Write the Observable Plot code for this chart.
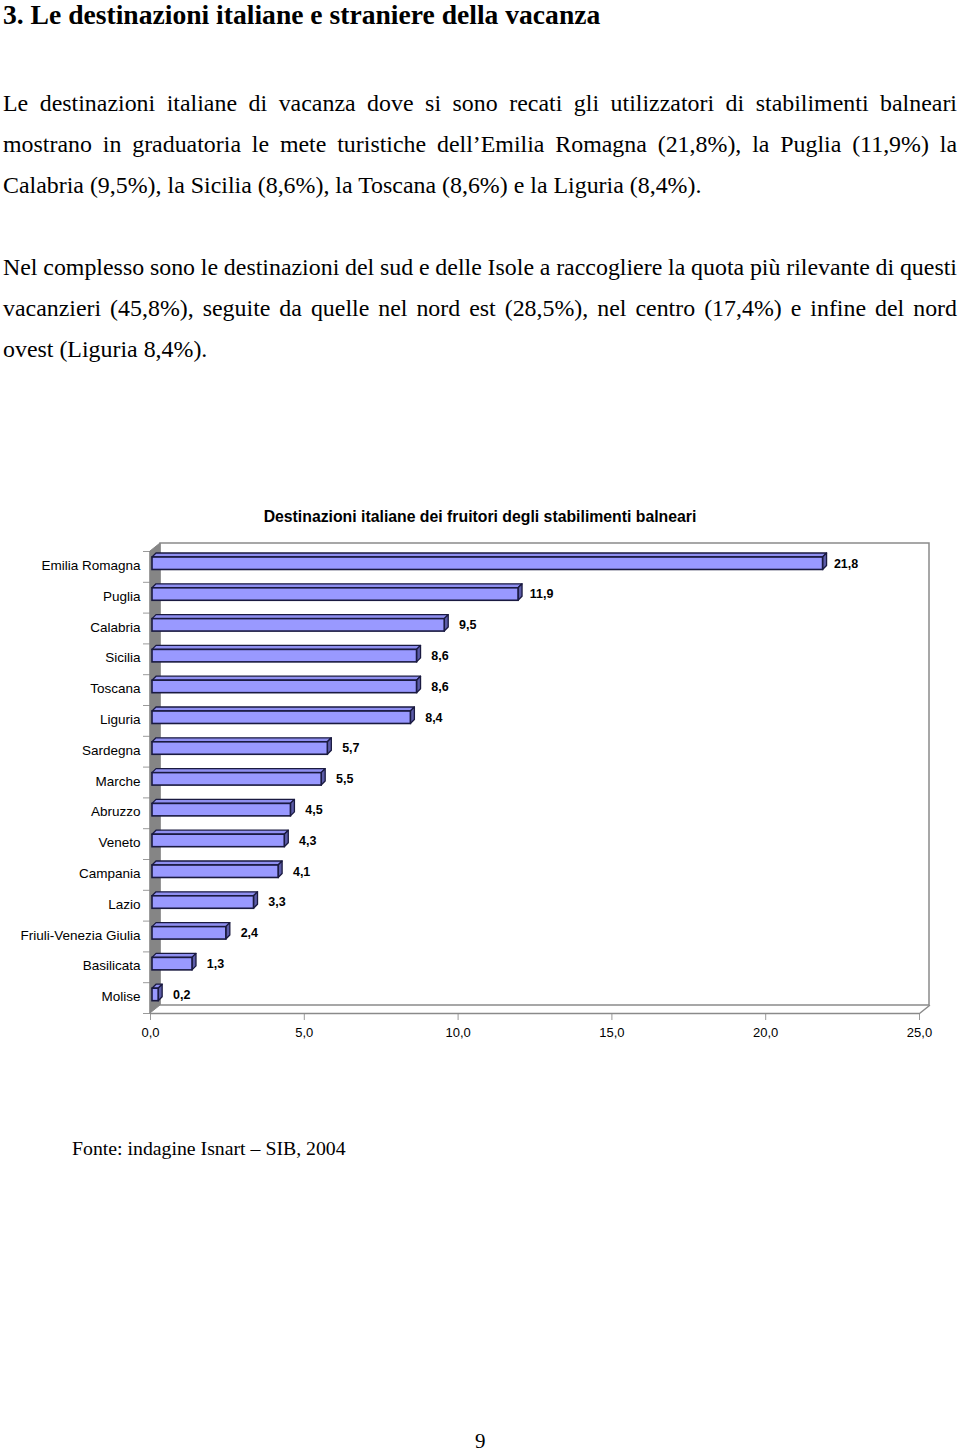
<!DOCTYPE html>
<html>
<head>
<meta charset="utf-8">
<script src="https://cdn.jsdelivr.net/npm/d3@7"></script>
<script src="https://cdn.jsdelivr.net/npm/@observablehq/plot@0.6"></script>
<style>
  html, body { margin: 0; padding: 0; background: #fff; }
  body { width: 960px; height: 1451px; position: relative; overflow: hidden; color: #000; }
  .serif { font-family: "Liberation Serif", "Times New Roman", serif; }
  .abs { position: absolute; white-space: nowrap; }
  .h1 { left: 3px; top: -1px; font-size: 27.6px; font-weight: bold; }
  .line { position: absolute; left: 3px; width: 954px; font-size: 23.9px; text-align: justify; text-align-last: justify; white-space: nowrap; }
  .line.last { text-align-last: left; }
  .line.tight { word-spacing: -1.5px; }
  .ctitle { position: absolute; left: 0; width: 960px; top: 508px; text-align: center; font-family: "Liberation Sans", Arial, sans-serif; font-weight: bold; font-size: 15.8px; }
  #chart { position: absolute; left: 0; top: 530px; }
  #chart svg g[aria-label="x-axis tick"] path, #chart svg g[aria-label="y-axis tick"] path { stroke: #9a9a9a; }
  .fonte { left: 72px; top: 1137px; font-size: 19.8px; }
  .pnum { left: 475px; top: 1429px; font-size: 21px; }
</style>
</head>
<body>
<div class="abs serif h1">3. Le destinazioni italiane e straniere della vacanza</div>
<div class="line serif" style="top:90px">Le destinazioni italiane di vacanza dove si sono recati gli utilizzatori di stabilimenti balneari</div>
<div class="line serif" style="top:131px">mostrano in graduatoria le mete turistiche dell’Emilia Romagna (21,8%), la Puglia (11,9%) la</div>
<div class="line serif last" style="top:172px">Calabria (9,5%), la Sicilia (8,6%), la Toscana (8,6%) e la Liguria (8,4%).</div>
<div class="line serif tight" style="top:254px">Nel complesso sono le destinazioni del sud e delle Isole a raccogliere la quota più rilevante di questi</div>
<div class="line serif" style="top:295px">vacanzieri (45,8%), seguite da quelle nel nord est (28,5%), nel centro (17,4%) e infine del nord</div>
<div class="line serif last" style="top:336px">ovest (Liguria 8,4%).</div>

<div class="ctitle">Destinazioni italiane dei fruitori degli stabilimenti balneari</div>
<div id="chart"></div>

<div class="abs serif fonte">Fonte: indagine Isnart – SIB, 2004</div>
<div class="abs serif pnum">9</div>

<script>
// ---- data ----
const categories = ["Emilia Romagna", "Puglia", "Calabria", "Sicilia", "Toscana", "Liguria", "Sardegna", "Marche", "Abruzzo", "Veneto", "Campania", "Lazio", "Friuli-Venezia Giulia", "Basilicata", "Molise"];
const values = [21.8, 11.9, 9.5, 8.6, 8.6, 8.4, 5.7, 5.5, 4.5, 4.3, 4.1, 3.3, 2.4, 1.3, 0.2];
const xTicks = [0, 5, 10, 15, 20, 25];

// ---- layout ----
const W = 960, H = 520, mL = 150, mR = 41, mT = 21, mB = 37;
const xMax = xTicks[xTicks.length - 1];
const n = categories.length;
const kx = (W - mL - mR) / xMax;   // px per x unit
const ky = (H - mT - mB) / n;      // px per row
const wallDX = 10 / kx, wallDY = 8 / ky;
const barDX = 4 / kx, barDY = 4 / ky;
const fmt = d => d.toFixed(1).replace(".", ",");

const rows = categories.map((c, i) => ({c, v: values[i], i, top: i + 0.195, bot: i + 0.6}));
const topPts = rows.flatMap(r => [
  {c: r.c, y: r.top, x1: 0, x2: r.v},
  {c: r.c, y: r.top - barDY, x1: barDX, x2: r.v + barDX}
]);
const sidePts = rows.flatMap(r => [
  {c: r.c, x: r.v, y1: r.top, y2: r.bot},
  {c: r.c, x: r.v + barDX, y1: r.top - barDY, y2: r.bot - barDY}
]);
const leftWall = [
  {x: 0, y1: 0, y2: n},
  {x: wallDX, y1: -wallDY, y2: n - wallDY}
];
const outline = "#1a1a40";

const chart = Plot.plot({
  width: W, height: H,
  marginLeft: mL, marginRight: mR, marginTop: mT, marginBottom: mB,
  style: {fontFamily: "'Liberation Sans', Arial, sans-serif", fontSize: "13px", background: "white", color: "black"},
  x: {domain: [0, xMax], ticks: xTicks, tickFormat: fmt, tickSize: 7, tickPadding: 7, label: null},
  y: {domain: [0, n], reverse: true, ticks: d3.range(n + 1), tickFormat: () => "", tickSize: 7, tickPadding: 0, label: null},
  marks: [
    // back wall
    Plot.rect([0], {x1: wallDX, x2: xMax + wallDX, y1: -wallDY, y2: n - wallDY, fill: "white", stroke: "#8a8a8a", strokeWidth: 1.5}),
    // floor right diagonal and front edge
    Plot.line([{x: xMax, y: n}, {x: xMax + wallDX, y: n - wallDY}], {x: "x", y: "y", stroke: "#8a8a8a", strokeWidth: 1.5}),
    Plot.ruleY([n], {x1: 0, x2: xMax, stroke: "#8a8a8a", strokeWidth: 1.5}),
    // left wall
    Plot.areaY(leftWall, {x: "x", y1: "y1", y2: "y2", fill: "#858585", stroke: "#858585"}),
    // bars: top face, side face, front face
    Plot.areaX(topPts, {y: "y", x1: "x1", x2: "x2", z: "c", fill: "#8f8ff0", stroke: outline, strokeWidth: 1.3, dx: 2}),
    Plot.areaY(sidePts, {x: "x", y1: "y1", y2: "y2", z: "c", fill: "#5c5ca8", stroke: outline, strokeWidth: 1.3, dx: 2}),
    Plot.rect(rows, {x1: 0, x2: "v", y1: "top", y2: "bot", fill: "#9999ff", stroke: outline, strokeWidth: 1.6, dx: 2}),
    // value labels
    Plot.text(rows, {x: "v", y: d => d.i + 0.39, text: d => fmt(d.v), dx: 25, fontWeight: "bold", fontSize: 12.5}),
    // category labels
    Plot.text(rows, {x: 0, y: d => d.i + 0.46, text: "c", textAnchor: "end", dx: -10, fontSize: 13.5})
  ]
});
document.getElementById("chart").appendChild(chart);
</script>
</body>
</html>
